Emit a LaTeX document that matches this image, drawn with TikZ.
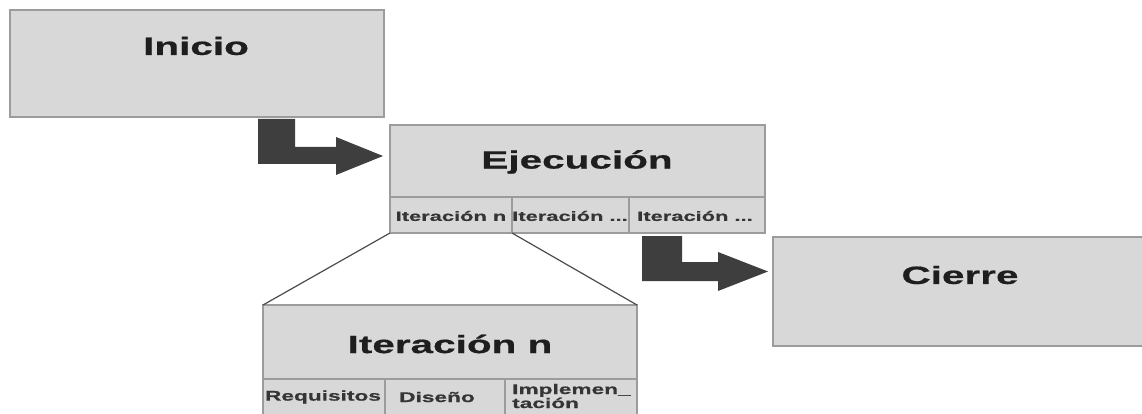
\documentclass[tikz,border=0pt]{standalone}
\usepackage{fontspec}
\newfontfamily\lbf{Liberation Sans}[FakeStretch=1.62,FakeBold=0.6]
\definecolor{boxfill}{HTML}{D8D8D8}
\definecolor{boxline}{HTML}{9C9C9C}
\definecolor{arrowcol}{HTML}{3E3E3E}
\definecolor{txt}{HTML}{1E1E1E}
\tikzset{
  x=1pt,y=-1pt,
  box/.style={draw=boxline,fill=boxfill,line width=1.6pt,inner sep=0pt},
  bigtext/.style={font=\lbf\bfseries\fontsize{25}{27}\selectfont,text=txt,inner sep=0pt},
  smalltext/.style={font=\lbf\bfseries\fontsize{14}{15}\selectfont,text=txt!90,inner sep=0pt,align=left},
  celltext/.style={smalltext,font=\lbf\bfseries\fontsize{13.5}{15}\selectfont},
  blockarrow/.style={fill=arrowcol,draw=none},
  zoomline/.style={draw=black!70,line width=1.2pt}
}
\begin{document}
\begin{tikzpicture}
\useasboundingbox[fill=white] (0,0) rectangle (1142,414);
% Inicio
\draw[box] (10,10) rectangle (384,117);
\node[bigtext] (tinicio) at (196,46) {Inicio};
% Ejecucion
\draw[box] (390,125) rectangle (765,233);
\draw[box,fill=none] (390,197) -- (765,197);
\draw[box,fill=none] (512,197) -- (512,233);
\draw[box,fill=none] (629,197) -- (629,233);
\node[bigtext] (tejec) at (577,162) {Ejecución};
\node[celltext] (c1) at (451,216) {Iteración n};
\node[celltext] (c2) at (570,216) {Iteración ...};
\node[celltext] (c3) at (695,216) {Iteración ...};
\coordinate (ejSW) at (390,233);
\coordinate (ejD1) at (512,233);
% Iteracion n
\draw[box] (263,305) rectangle (637,430);
\draw[box,fill=none] (263,379) -- (637,379);
\draw[box,fill=none] (385,379) -- (385,430);
\draw[box,fill=none] (505,379) -- (505,430);
\node[bigtext] (titer) at (450,344) {Iteración n};
\node[smalltext] (r1) at (323,397) {Requisitos};
\node[smalltext] (r2) at (437,397) {Diseño};
\node[smalltext,anchor=west] (r3) at (512,396) {Implemen\_\\[-1pt]tación};
\coordinate (itNW) at (263,305);
\coordinate (itNE) at (637,305);
% Cierre
\draw[box] (773,237) rectangle (1152,346);
\node[bigtext] (tcierre) at (960,275) {Cierre};
% zoom lines
\draw[zoomline] (ejSW) -- (itNW);
\draw[zoomline] (ejD1) -- (itNE);
% block arrows
\fill[blockarrow] (258,119) -- (295,119) -- (295,147) -- (336,147) -- (336,137)
  -- (383,156) -- (336,175) -- (336,164) -- (258,164) -- cycle;
\fill[blockarrow] (642,236) -- (682,236) -- (682,262) -- (718,262) -- (718,252)
  -- (768,271.5) -- (718,291) -- (718,281) -- (642,281) -- cycle;
\end{tikzpicture}
\end{document}
